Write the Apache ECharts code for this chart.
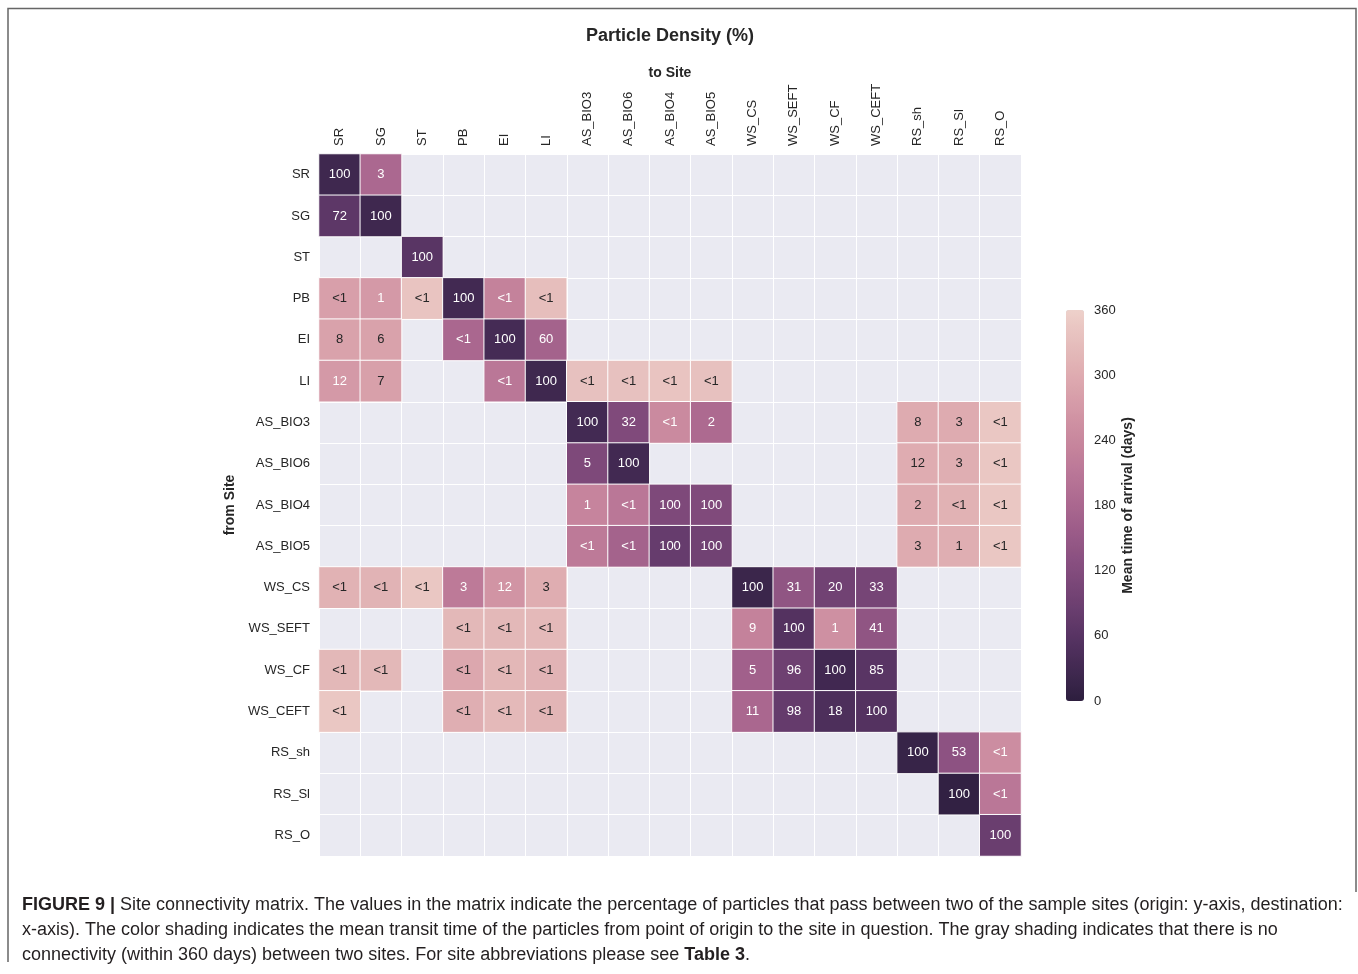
<!DOCTYPE html>
<html>
<head>
<meta charset="utf-8">
<title>Particle Density (%)</title>
<script src="https://cdn.jsdelivr.net/npm/echarts@6/dist/echarts.min.js"></script>
<style>
  html, body { margin: 0; padding: 0; background: #ffffff; }
  #chart { width: 1358px; height: 974px; }
</style>
</head>
<body>
<div id="chart"></div>
<script>
// Sample sites (rows = origin, columns = destination)
const sites = ['SR', 'SG', 'ST', 'PB', 'EI', 'LI', 'AS_BIO3', 'AS_BIO6', 'AS_BIO4', 'AS_BIO5',
  'WS_CS', 'WS_SEFT', 'WS_CF', 'WS_CEFT', 'RS_sh', 'RS_Sl', 'RS_O'];

const __ = null;

// Percentage of particles passing from a row site to a column site (null = no connectivity)
const pct = [
  ['100', '3', __, __, __, __, __, __, __, __, __, __, __, __, __, __, __],
  ['72', '100', __, __, __, __, __, __, __, __, __, __, __, __, __, __, __],
  [__, __, '100', __, __, __, __, __, __, __, __, __, __, __, __, __, __],
  ['<1', '1', '<1', '100', '<1', '<1', __, __, __, __, __, __, __, __, __, __, __],
  ['8', '6', __, '<1', '100', '60', __, __, __, __, __, __, __, __, __, __, __],
  ['12', '7', __, __, '<1', '100', '<1', '<1', '<1', '<1', __, __, __, __, __, __, __],
  [__, __, __, __, __, __, '100', '32', '<1', '2', __, __, __, __, '8', '3', '<1'],
  [__, __, __, __, __, __, '5', '100', __, __, __, __, __, __, '12', '3', '<1'],
  [__, __, __, __, __, __, '1', '<1', '100', '100', __, __, __, __, '2', '<1', '<1'],
  [__, __, __, __, __, __, '<1', '<1', '100', '100', __, __, __, __, '3', '1', '<1'],
  ['<1', '<1', '<1', '3', '12', '3', __, __, __, __, '100', '31', '20', '33', __, __, __],
  [__, __, __, '<1', '<1', '<1', __, __, __, __, '9', '100', '1', '41', __, __, __],
  ['<1', '<1', __, '<1', '<1', '<1', __, __, __, __, '5', '96', '100', '85', __, __, __],
  ['<1', __, __, '<1', '<1', '<1', __, __, __, __, '11', '98', '18', '100', __, __, __],
  [__, __, __, __, __, __, __, __, __, __, __, __, __, __, '100', '53', '<1'],
  [__, __, __, __, __, __, __, __, __, __, __, __, __, __, __, '100', '<1'],
  [__, __, __, __, __, __, __, __, __, __, __, __, __, __, __, __, '100']
];

// Mean time of arrival in days for the same cells
const days = [
  [25, 182, __, __, __, __, __, __, __, __, __, __, __, __, __, __, __],
  [68, 25, __, __, __, __, __, __, __, __, __, __, __, __, __, __, __],
  [__, __, 62, __, __, __, __, __, __, __, __, __, __, __, __, __, __],
  [280, 270, 340, 30, 230, 330, __, __, __, __, __, __, __, __, __, __, __],
  [285, 285, __, 180, 35, 170, __, __, __, __, __, __, __, __, __, __, __],
  [270, 282, __, __, 210, 25, 335, 335, 340, 335, __, __, __, __, __, __, __],
  [__, __, __, __, __, __, 32, 115, 245, 185, __, __, __, __, 300, 300, 345],
  [__, __, __, __, __, __, 112, 30, __, __, __, __, __, __, 302, 305, 345],
  [__, __, __, __, __, __, 235, 210, 112, 115, __, __, __, __, 300, 310, 345],
  [__, __, __, __, __, __, 215, 170, 80, 95, __, __, __, __, 300, 305, 345],
  [310, 312, 345, 215, 263, 303, __, __, __, __, 20, 140, 95, 102, __, __, __],
  [__, __, __, 320, 320, 322, __, __, __, __, 230, 55, 255, 140, __, __, __],
  [320, 320, __, 292, 318, 312, __, __, __, __, 165, 90, 28, 62, __, __, __],
  [345, __, __, 305, 322, 315, __, __, __, __, 180, 78, 45, 55, __, __, __],
  [__, __, __, __, __, __, __, __, __, __, __, __, __, __, 15, 135, 250],
  [__, __, __, __, __, __, __, __, __, __, __, __, __, __, __, 8, 210],
  [__, __, __, __, __, __, __, __, __, __, __, __, __, __, __, __, 85]
];

const colorbarMin = 0;
const colorbarMax = 360;
const colorbarStep = 60;

// Cubehelix palette (start 0, rot 0.4, hue 0.8, light 0.85, dark 0.15), dark = short transit
function cubehelix(x) {
  const a = 0.8 * x * (1 - x) / 2;
  const phi = 2 * Math.PI * (0.4 * x);
  const c = Math.cos(phi), s = Math.sin(phi);
  const clip = v => Math.max(0, Math.min(1, v));
  return [
    clip(x + a * (-0.14861 * c + 1.78277 * s)),
    clip(x + a * (-0.29227 * c - 0.90649 * s)),
    clip(x + a * (1.97294 * c))
  ];
}
function rgbHex(rgb) {
  return '#' + rgb.map(v => Math.round(v * 255).toString(16).padStart(2, '0')).join('');
}
function rgbForDays(v) {
  return cubehelix(0.15 + 0.7 * (v - colorbarMin) / (colorbarMax - colorbarMin));
}
function luminance(rgb) {
  const lin = rgb.map(c => c <= 0.03928 ? c / 12.92 : Math.pow((c + 0.055) / 1.055, 2.4));
  return 0.2126 * lin[0] + 0.7152 * lin[1] + 0.0722 * lin[2];
}

const rampStops = [];
for (let i = 0; i <= 48; i++) {
  rampStops.push(rgbHex(rgbForDays(colorbarMin + (colorbarMax - colorbarMin) * i / 48)));
}

const cells = [];
for (let r = 0; r < sites.length; r++) {
  for (let c = 0; c < sites.length; c++) {
    if (days[r][c] === null) continue;
    const lum = luminance(rgbForDays(days[r][c]));
    cells.push({
      value: [c, r, days[r][c]],
      label: { color: lum > 0.408 ? '#262626' : '#ffffff' }
    });
  }
}

const font = '"Liberation Sans", Arial, Helvetica, sans-serif';
const textDark = '#262626';

const chart = echarts.init(document.getElementById('chart'), null, { renderer: 'canvas' });

chart.setOption({
  backgroundColor: '#ffffff',
  animation: false,
  textStyle: { fontFamily: font },
  grid: [
    { left: 319, top: 154, width: 702, height: 702, show: true, backgroundColor: '#EAEAF2', borderWidth: 0 },
    { left: 1066, top: 310, width: 18, height: 391, show: false }
  ],
  xAxis: [
    {
      gridIndex: 0, type: 'category', data: sites, position: 'top',
      axisLine: { show: false }, axisTick: { show: false },
      splitLine: { show: true, interval: 0, lineStyle: { color: '#ffffff', width: 1 } },
      axisLabel: { rotate: -90, interval: 0, fontSize: 13, color: textDark, margin: 8, fontFamily: font },
      name: 'to Site', nameLocation: 'middle', nameGap: 74, nameMoveOverlap: false,
      nameTextStyle: { fontSize: 14, fontWeight: 'bold', color: textDark, fontFamily: font }
    },
    { gridIndex: 1, type: 'value', show: false, min: 0, max: 1 }
  ],
  yAxis: [
    {
      gridIndex: 0, type: 'category', data: sites, inverse: true,
      axisLine: { show: false }, axisTick: { show: false },
      splitLine: { show: true, interval: 0, lineStyle: { color: '#ffffff', width: 1 } },
      axisLabel: { interval: 0, fontSize: 13, color: textDark, margin: 9, fontFamily: font },
      name: 'from Site', nameLocation: 'middle', nameGap: 75, nameRotate: 90,
      nameTextStyle: { fontSize: 14, fontWeight: 'bold', color: textDark, fontFamily: font }
    },
    {
      gridIndex: 1, type: 'value', position: 'right',
      min: colorbarMin, max: colorbarMax, interval: colorbarStep,
      axisLine: { show: false }, axisTick: { show: false }, splitLine: { show: false },
      axisLabel: { fontSize: 13, color: textDark, margin: 10, fontFamily: font },
      name: 'Mean time of arrival (days)', nameLocation: 'middle', nameGap: 37, nameRotate: 90,
      nameTextStyle: { fontSize: 14, fontWeight: 'bold', color: textDark, fontFamily: font }
    }
  ],
  visualMap: {
    type: 'continuous', seriesIndex: 0, dimension: 2,
    min: colorbarMin, max: colorbarMax,
    orient: 'vertical', left: 1066, top: 310,
    itemWidth: 18, itemHeight: 391, padding: 0,
    calculable: false, realtime: false, hoverLink: false,
    text: null, showLabel: false,
    inRange: { color: rampStops }
  },
  series: [
    {
      type: 'heatmap', xAxisIndex: 0, yAxisIndex: 0,
      data: cells,
      itemStyle: { borderColor: '#ffffff', borderWidth: 1 },
      label: {
        show: true, fontSize: 13, fontFamily: font,
        formatter: p => pct[p.value[1]][p.value[0]]
      },
      emphasis: { disabled: true }
    },
    { type: 'scatter', xAxisIndex: 1, yAxisIndex: 1, data: [], silent: true }
  ],
  graphic: [
    // figure frame
    { type: 'polyline', silent: true, shape: { points: [[8, 962], [8, 8.5], [1356, 8.5], [1356, 892]] },
      style: { stroke: '#666666', lineWidth: 1.5, fill: null } },
    { type: 'text', silent: true, x: 670, y: 36,
      style: { text: 'Particle Density (%)', font: 'bold 18px ' + font, fill: textDark,
        textAlign: 'center', textVerticalAlign: 'middle' } },
    { type: 'text', silent: true, x: 22, y: 905,
      style: { text: '{b|FIGURE 9 |} Site connectivity matrix. The values in the matrix indicate the percentage of particles that pass between two of the sample sites (origin: y-axis, destination:',
        font: '18px ' + font, fill: '#231f20', textVerticalAlign: 'middle',
        rich: { b: { font: 'bold 18px ' + font, fill: '#231f20' } } } },
    { type: 'text', silent: true, x: 22, y: 930,
      style: { text: 'x-axis). The color shading indicates the mean transit time of the particles from point of origin to the site in question. The gray shading indicates that there is no',
        font: '18px ' + font, fill: '#231f20', textVerticalAlign: 'middle' } },
    { type: 'text', silent: true, x: 22, y: 955,
      style: { text: 'connectivity (within 360 days) between two sites. For site abbreviations please see {b|Table 3}.',
        font: '18px ' + font, fill: '#231f20', textVerticalAlign: 'middle',
        rich: { b: { font: 'bold 18px ' + font, fill: '#231f20' } } } }
  ]
});
</script>
</body>
</html>
